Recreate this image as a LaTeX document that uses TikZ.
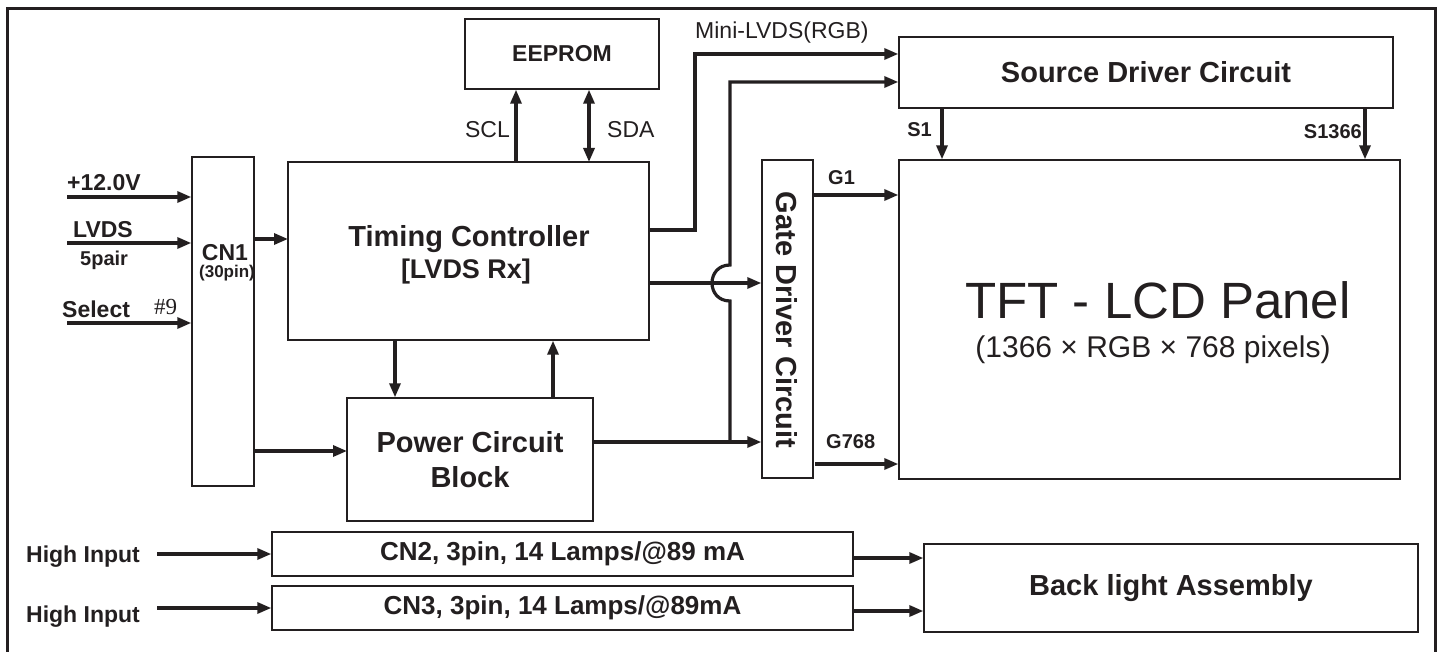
\documentclass[tikz,border=0pt]{standalone}
\usepackage{fontspec}
\setmainfont{Liberation Sans}
\newfontfamily\pinfont{Liberation Serif}
\usetikzlibrary{arrows.meta, positioning, calc}
\definecolor{ink}{RGB}{35,31,32}

\begin{document}
\begin{tikzpicture}[
  x=1pt, y=-1pt, >={Triangle[length=14pt, width=11pt]},
  box/.style  = {draw=ink, line width=1.4pt, inner sep=0pt, text=ink},
  sig/.style  = {draw=ink, line width=3.2pt, ->},
  wire/.style = {draw=ink, line width=3.2pt},
  big/.style  = {font=\bfseries\fontsize{29}{34}\selectfont, text=ink},
  mid/.style  = {font=\bfseries\fontsize{23}{27}\selectfont, text=ink},
  pin/.style  = {font=\bfseries\fontsize{20}{24}\selectfont, text=ink, inner sep=0pt},
  thin/.style = {font=\fontsize{23}{27}\selectfont, text=ink, inner sep=0pt},
]
  \useasboundingbox (0,0) rectangle (1442,652);
  \draw[ink, line width=3pt] (7,652) -- (7,9) -- (1435,9) -- (1435,652);

  % blocks
  \node[box, mid, minimum width=194pt, minimum height=70pt]  (eeprom) at (562,54)      {EEPROM};
  \node[box, minimum width=361pt, minimum height=178pt]      (tcon)   at (468.5,251)   {};
  \node[big] (tconname) at (469,239) {Timing Controller};
  \node[big, font=\bfseries\fontsize{27}{32}\selectfont] (tconrx) at (466,272) {[LVDS Rx]};
  \node[box, minimum width=62pt, minimum height=329pt]       (cn1)    at (223,321.5)   {};
  \node[mid, inner sep=0pt] (cn1name) at (225,253) {CN1};
  \node[pin, font=\bfseries\fontsize{17}{20}\selectfont] (cn1pins) at (227,273) {(30pin)};
  \node[box, big, align=center, minimum width=246pt, minimum height=123pt,
        font=\bfseries\fontsize{29}{35}\selectfont] (power) at (470,459.5) {Power Circuit\\Block};
  \node[box, minimum width=51pt, minimum height=318pt]       (gate)   at (787.5,319)   {};
  \node[big, rotate=-90] (gatename) at (787,320) {Gate Driver Circuit};
  \node[box, big, minimum width=494pt, minimum height=71pt]  (source) at (1146,72.5)   {Source Driver Circuit};
  \node[box, minimum width=501pt, minimum height=319pt]      (tft)    at (1149.5,319.5) {};
  \node[font=\fontsize{51}{60}\selectfont, text=ink] (tftname) at (1158,300) {TFT - LCD Panel};
  \node[font=\fontsize{30}{36}\selectfont, text=ink] (tftsize) at (1153,350) {(1366 × RGB × 768 pixels)};
  \node[box, big, font=\bfseries\fontsize{26}{30}\selectfont,
        minimum width=581pt, minimum height=44pt] (cn2) at (562.5,554) {CN2, 3pin, 14 Lamps/@89 mA};
  \node[box, big, font=\bfseries\fontsize{26}{30}\selectfont,
        minimum width=581pt, minimum height=44pt] (cn3) at (562.5,608) {CN3, 3pin, 14 Lamps/@89mA};
  \node[box, big, minimum width=494pt, minimum height=88pt]  (backlight) at (1171,588) {Back light Assembly};

  % inputs to CN1
  \coordinate (pin12) at (67,197);
  \coordinate (plvds) at (67,243);
  \coordinate (psel)  at (67,323);
  \node[mid, inner sep=0pt, anchor=west] (l12)   at (67,183)  {+12.0V};
  \node[mid, inner sep=0pt, anchor=west] (llvds) at (73,230)  {LVDS};
  \node[pin, anchor=west]                (lpair) at (80,260)  {5pair};
  \node[mid, inner sep=0pt, anchor=west] (lsel)  at (62,309)  {Select};
  \node[font=\pinfont\fontsize{23}{27}\selectfont, text=ink, inner sep=0pt, anchor=west] (lnine) at (154,307) {\#9};
  \draw[sig] (pin12) -- (pin12 -| cn1.west);
  \draw[sig] (plvds) -- (plvds -| cn1.west);
  \draw[sig] (psel)  -- (psel -| cn1.west);

  \coordinate (tcin) at (288,239);
  \coordinate (pwin) at (347,451);
  \draw[sig] (tcin -| cn1.east) -- (tcin);
  \draw[sig] (pwin -| cn1.east) -- (pwin);

  % eeprom bus
  \coordinate (scl) at (516,162);
  \coordinate (sda) at (589,162);
  \draw[sig] (scl) -- (scl |- eeprom.south);
  \draw[sig, <->] (sda) -- (sda |- eeprom.south);
  \node[thin, anchor=east] (lscl) at (510,130) {SCL};
  \node[thin, anchor=west] (lsda) at (607,130) {SDA};

  % timing controller <-> power block
  \coordinate (tdn) at (395,340);
  \coordinate (pup) at (553,398);
  \draw[sig] (tdn) -- (tdn |- power.north);
  \draw[sig] (pup) -- (pup |- tcon.south);

  % mini-lvds to source driver
  \coordinate (mout) at (649,230);
  \coordinate (mbus) at (695,54);
  \draw[sig] (mout) -| (mbus) -- (mbus -| source.west);
  \node[thin, anchor=west] (lmini) at (695,33) {Mini-LVDS(RGB)};

  % to gate driver
  \coordinate (gin)   at (649,283);
  \coordinate (pgate) at (593,442);
  \draw[sig] (gin) -- (gin -| gate.west);
  \draw[sig] (pgate) -- (pgate -| gate.west);

  % power bus to source driver, hopping over the gate line
  \coordinate (vbus) at (730,442);
  \coordinate (vtop) at (730,82);
  \draw[sig] (vbus) -- (730,301) .. controls (706,301) and (706,265) .. (730,265)
    -- (vtop) -- (vtop -| source.west);

  % drivers to panel
  \coordinate (g1)   at (813,195);
  \coordinate (g768) at (815,464);
  \coordinate (s1)    at (942,108);
  \coordinate (s1366) at (1365,108);
  \draw[sig] (g1) -- (g1 -| tft.west);
  \draw[sig] (g768) -- (g768 -| tft.west);
  \draw[sig] (s1) -- (s1 |- tft.north);
  \draw[sig] (s1366) -- (s1366 |- tft.north);
  \node[pin, anchor=west] (lg1)    at (828,178)  {G1};
  \node[pin, anchor=west] (lg768)  at (826,442)  {G768};
  \node[pin, anchor=east] (ls1)    at (932,130)  {S1};
  \node[pin, anchor=east] (ls1366) at (1362,132) {S1366};

  % lamp inputs
  \coordinate (hin2) at (157,554);
  \coordinate (hin3) at (157,608);
  \draw[sig] (hin2) -- (cn2.west);
  \draw[sig] (hin3) -- (cn3.west);
  \node[mid] (lhigh2) at (83,557) {High Input};
  \node[mid] (lhigh3) at (83,617) {High Input};
  \coordinate (bl2) at (853,558);
  \coordinate (bl3) at (853,611);
  \draw[sig] (bl2) -- (bl2 -| backlight.west);
  \draw[sig] (bl3) -- (bl3 -| backlight.west);
\end{tikzpicture}
\end{document}
